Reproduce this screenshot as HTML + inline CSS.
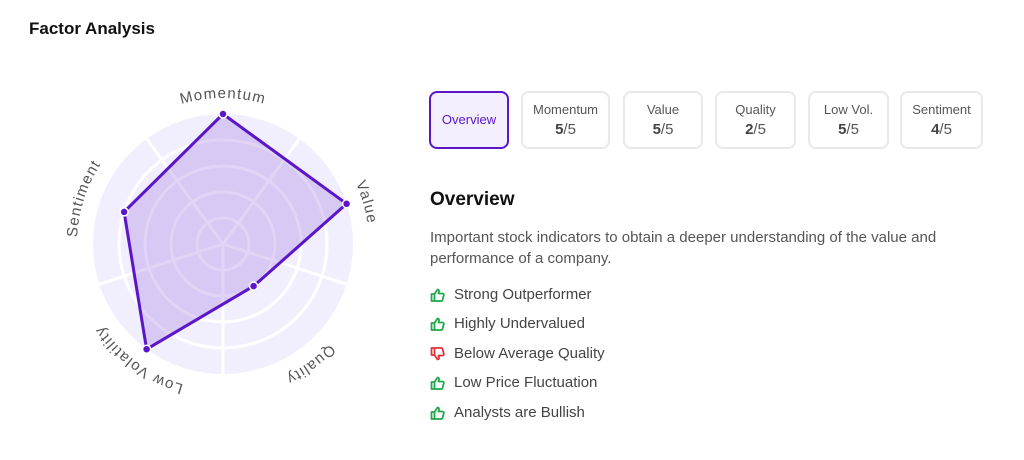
<!DOCTYPE html>
<html><head><meta charset="utf-8"><style>
body{margin:0;width:1024px;height:460px;background:#fff;font-family:"Liberation Sans",sans-serif;position:relative;overflow:hidden}
.a{position:absolute}
.btn{position:absolute;top:91px;height:54px;border:2px solid #e9e9e9;border-radius:8px;box-sizing:content-box;text-align:center;color:#555;font-size:13px}
.btn .l{margin-top:9px}
.btn .v{margin-top:4px;font-size:15px;color:#555}
.btn .v b{color:#444}
.li{position:absolute;left:430px;font-size:15px;color:#444;height:20px;line-height:20px}
.li svg{position:absolute;left:0;top:3px}
.li span{position:absolute;left:24px;white-space:nowrap}
</style></head><body>
<div class="a" style="left:29px;top:19px;font-size:17px;font-weight:bold;color:#111">Factor Analysis</div>
<svg class="a" style="left:0;top:0" width="420" height="460" viewBox="0 0 420 460">
<defs><path id="cp" d="M223,390 A146,146 0 1,1 223,98 A146,146 0 1,1 223,390"/></defs>
<circle cx="223" cy="244" r="130" fill="#f1effd"/>
<g fill="none" stroke="#fff" stroke-width="3">
<circle cx="223" cy="244" r="104"/><circle cx="223" cy="244" r="78"/><circle cx="223" cy="244" r="52"/><circle cx="223" cy="244" r="26"/>
</g>
<g stroke="#fff" stroke-width="3">
<line x1="223" y1="244" x2="299.4" y2="138.8"/><line x1="223" y1="244" x2="146.6" y2="138.8"/>
<line x1="223" y1="244" x2="346.6" y2="284.2"/><line x1="223" y1="244" x2="99.4" y2="284.2"/>
<line x1="223" y1="244" x2="223" y2="374"/>
</g>
<polygon points="223,114 346.6,203.8 253.6,286.1 146.6,349.2 124.1,211.9" fill="#9b6fe0" fill-opacity="0.3" stroke="#5a16c8" stroke-width="3" stroke-linejoin="round"/>
<g fill="#5a16c8" stroke="#fff" stroke-width="1.5">
<circle cx="223" cy="114" r="4"/><circle cx="346.6" cy="203.8" r="4"/><circle cx="253.6" cy="286.1" r="4"/><circle cx="146.6" cy="349.2" r="4"/><circle cx="124.1" cy="211.9" r="4"/>
</g>
<g font-size="15" fill="#555" letter-spacing="1.2" text-anchor="middle">
<text><textPath href="#cp" startOffset="10%">Low Volatility</textPath></text>
<text><textPath href="#cp" startOffset="30%">Sentiment</textPath></text>
<text><textPath href="#cp" startOffset="50%">Momentum</textPath></text>
<text><textPath href="#cp" startOffset="70.5%">Value</textPath></text>
<text><textPath href="#cp" startOffset="90%">Quality</textPath></text>
</g>
</svg>
<div class="btn" style="left:429px;width:76px;border-color:#5a16c8;background:#f3effe;color:#5a16c8;line-height:54px;font-size:13px">Overview</div>
<div class="btn" style="left:521px;width:85px"><div class="l">Momentum</div><div class="v"><b>5</b>/5</div></div>
<div class="btn" style="left:623px;width:76px"><div class="l">Value</div><div class="v"><b>5</b>/5</div></div>
<div class="btn" style="left:715px;width:77px"><div class="l">Quality</div><div class="v"><b>2</b>/5</div></div>
<div class="btn" style="left:808px;width:77px"><div class="l">Low Vol.</div><div class="v"><b>5</b>/5</div></div>
<div class="btn" style="left:900px;width:79px"><div class="l">Sentiment</div><div class="v"><b>4</b>/5</div></div>
<div class="a" style="left:430px;top:189px;font-size:19px;font-weight:bold;color:#111">Overview</div>
<div class="a" style="left:430px;top:227px;width:560px;font-size:15px;line-height:21px;color:#555">Important stock indicators to obtain a deeper understanding of the value and performance of a company.</div>
<div class="li" style="top:285px"><svg width="15" height="14" viewBox="0 0 15 14"><path d="M1.5,6h3v7h-3zM4.5,6L7.5,1.5c1,0 1.8,.8 1.5,2L8.5,5.5h4c.9,0 1.5,.8 1.3,1.6L12.5,12c-.2,.6-.7,1-1.3,1H4.5" fill="none" stroke="#1fa847" stroke-width="1.8" stroke-linejoin="round"/></svg><span>Strong Outperformer</span></div>
<div class="li" style="top:314px"><svg width="15" height="14" viewBox="0 0 15 14"><path d="M1.5,6h3v7h-3zM4.5,6L7.5,1.5c1,0 1.8,.8 1.5,2L8.5,5.5h4c.9,0 1.5,.8 1.3,1.6L12.5,12c-.2,.6-.7,1-1.3,1H4.5" fill="none" stroke="#1fa847" stroke-width="1.8" stroke-linejoin="round"/></svg><span>Highly Undervalued</span></div>
<div class="li" style="top:344px"><svg width="15" height="14" viewBox="0 0 15 14"><g transform="translate(0,14) scale(1,-1)"><path d="M1.5,6h3v7h-3zM4.5,6L7.5,1.5c1,0 1.8,.8 1.5,2L8.5,5.5h4c.9,0 1.5,.8 1.3,1.6L12.5,12c-.2,.6-.7,1-1.3,1H4.5" fill="none" stroke="#e0303a" stroke-width="1.8" stroke-linejoin="round"/></g></svg><span>Below Average Quality</span></div>
<div class="li" style="top:373px"><svg width="15" height="14" viewBox="0 0 15 14"><path d="M1.5,6h3v7h-3zM4.5,6L7.5,1.5c1,0 1.8,.8 1.5,2L8.5,5.5h4c.9,0 1.5,.8 1.3,1.6L12.5,12c-.2,.6-.7,1-1.3,1H4.5" fill="none" stroke="#1fa847" stroke-width="1.8" stroke-linejoin="round"/></svg><span>Low Price Fluctuation</span></div>
<div class="li" style="top:403px"><svg width="15" height="14" viewBox="0 0 15 14"><path d="M1.5,6h3v7h-3zM4.5,6L7.5,1.5c1,0 1.8,.8 1.5,2L8.5,5.5h4c.9,0 1.5,.8 1.3,1.6L12.5,12c-.2,.6-.7,1-1.3,1H4.5" fill="none" stroke="#1fa847" stroke-width="1.8" stroke-linejoin="round"/></svg><span>Analysts are Bullish</span></div>
</body></html>
